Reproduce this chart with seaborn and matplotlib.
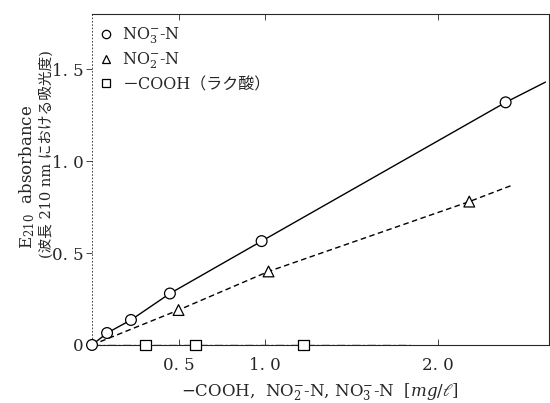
import numpy as np
import pandas as pd
import matplotlib
matplotlib.use("Agg")
import matplotlib.pyplot as plt
import seaborn as sns
from matplotlib.lines import Line2D

# ---- data ----
no3_x = [0.0, 0.087, 0.225, 0.45, 0.98, 2.39]
no3_y = [0.0, 0.065, 0.136, 0.28, 0.565, 1.32]
no3_line_x = [0.0, 0.087, 0.225, 0.45, 0.98, 2.39, 2.62]
no3_line_y = [0.0, 0.065, 0.136, 0.28, 0.565, 1.32, 1.43]

no2_x = [0.50, 1.02, 2.18]
no2_y = [0.19, 0.40, 0.78]
no2_line_x = [0.0, 0.50, 1.02, 2.18, 2.43]
no2_line_y = [0.0, 0.19, 0.40, 0.78, 0.87]

cooh_x = [0.31, 0.60, 1.22]
cooh_y = [0.0, 0.0, 0.0]
cooh_line_x = [0.0, 1.85]
cooh_line_y = [0.0, 0.0]

xticks = [0.5, 1.0, 2.0]
xticklabels = ["0. 5", "1. 0", "2. 0"]
yticks = [0, 0.5, 1.0, 1.5]
yticklabels = ["0", "0. 5", "1. 0", "1. 5"]

legend_labels = [r"NO$_3^{-}$-N", r"NO$_2^{-}$-N", "－COOH（ラク酸）"]
ylabel_1 = "E$_{210}$  absorbance"
ylabel_2 = "(波長 210 nm における吸光度)"
xlabel = r"−COOH,  NO$_2^{-}$-N, NO$_3^{-}$-N  [$mg/\ell$]"

sns.set_theme(style="ticks")
plt.rcParams["font.family"] = ["DejaVu Serif", "Noto Sans CJK JP"]
plt.rcParams["mathtext.fontset"] = "dejavuserif"

fig = plt.figure(figsize=(5.5, 4.03), dpi=100)
ax = fig.add_axes([0.1673, 0.144, 0.8307, 0.821])

lines_df = pd.concat([
    pd.DataFrame({"x": no3_line_x, "y": no3_line_y, "s": "no3"}),
    pd.DataFrame({"x": no2_line_x, "y": no2_line_y, "s": "no2"}),
    pd.DataFrame({"x": cooh_line_x, "y": cooh_line_y, "s": "cooh"}),
])
sns.lineplot(data=lines_df, x="x", y="y", hue="s", style="s",
             palette={"no3": "black", "no2": "black", "cooh": "#333333"},
             dashes={"no3": "", "no2": (4, 2.5), "cooh": (6, 2, 1, 2)},
             linewidth=1.0, sort=False, estimator=None, legend=False, ax=ax)

pts_df = pd.concat([
    pd.DataFrame({"x": no3_x, "y": no3_y, "s": "no3"}),
    pd.DataFrame({"x": no2_x, "y": no2_y, "s": "no2"}),
    pd.DataFrame({"x": cooh_x, "y": cooh_y, "s": "cooh"}),
])
sns.scatterplot(data=pts_df, x="x", y="y", style="s",
                markers={"no3": "o", "no2": "^", "cooh": "s"},
                s=60, facecolor="white", edgecolor="black", linewidth=0.9,
                legend=False, ax=ax, clip_on=False, zorder=5)

ax.set_xlim(0, 2.64)
ax.set_ylim(0, 1.8)
ax.set_xticks(xticks)
ax.set_xticklabels(xticklabels, fontsize=12)
ax.set_yticks(yticks)
ax.set_yticklabels(yticklabels, fontsize=12)
ax.tick_params(axis="x", direction="in", length=4, width=0.6, pad=9, top=True)
ax.tick_params(axis="y", direction="out", length=4, width=0.6, pad=2, right=True)
ax.tick_params(axis="y", which="both", labelright=False)
for sp in ["top", "bottom", "right"]:
    ax.spines[sp].set_visible(True)
    ax.spines[sp].set_linewidth(0.8)
ax.spines["left"].set_linestyle((0, (1, 3)))
ax.spines["left"].set_linewidth(0.6)

ax.set_xlabel(xlabel, fontsize=12)
ax.xaxis.set_label_coords(0.5, -0.11)
ax.set_ylabel("")
fig.text(27 / 550, 1 - 177 / 403, ylabel_1, rotation=90, ha="center", va="center",
         fontsize=12)
fig.text(46 / 550, 1 - 154 / 403, ylabel_2, rotation=90, ha="center", va="center",
         fontsize=10.5)

handles = [Line2D([], [], linestyle="none", marker=m, markersize=6,
                  markerfacecolor="white", markeredgecolor="black", markeredgewidth=0.9)
           for m in ["o", "^", "s"]]
ax.legend(handles, legend_labels, loc="upper left", frameon=False, fontsize=11.5,
          handletextpad=0.5, handlelength=1.0, labelspacing=0.3, borderaxespad=0.0,
          bbox_to_anchor=(0.0, 0.985))

fig.savefig("out.png", dpi=100)
